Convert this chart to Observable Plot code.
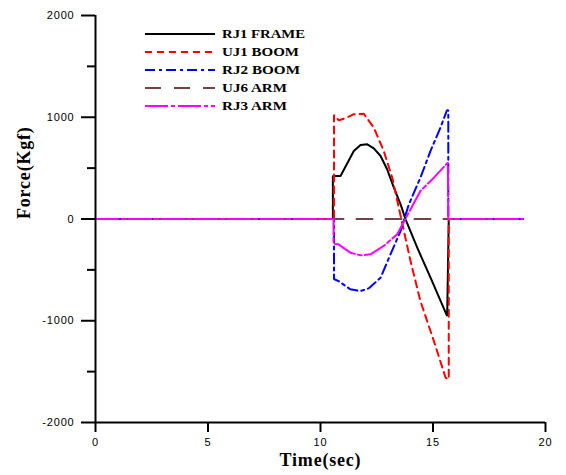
<!DOCTYPE html>
<html>
<head>
<meta charset="utf-8">
<script src="https://cdn.jsdelivr.net/npm/d3@7"></script>
<script src="https://cdn.jsdelivr.net/npm/@observablehq/plot@0.6"></script>
<style>
  html, body { margin: 0; padding: 0; background: #fff; }
  #wrap { position: relative; width: 566px; height: 475px; }
  #legend { position: absolute; left: 0; top: 0; pointer-events: none; }
</style>
</head>
<body>
<div id="wrap"></div>
<script>
// ---- data ----
const seriesNames = ["RJ1 FRAME", "UJ1 BOOM", "RJ2 BOOM", "UJ6 ARM", "RJ3 ARM"];
const seriesColors = ["#000000", "#ff0000", "#0000ff", "#704444", "#ff00ff"];
const seriesDash = ["none", "7,5", "10,4,3,4", "16,13", "23,3,4,3"];

const rj1Time  = [0, 10.55, 10.55, 10.89, 11.48, 11.78, 12.08, 12.37, 12.67, 12.96, 13.26, 13.56, 13.78, 14.30, 14.89, 15.63, 15.70, 19];
const rj1Force = [0, 0, 423, 423, 669, 728, 734, 695, 619, 489, 308, 144, -3, -282, -577, -954, 0, 0];

const uj1Time  = [0, 10.6, 10.6, 10.81, 11.1, 11.48, 11.92, 12.37, 12.81, 13.19, 13.48, 14.0, 14.44, 15.04, 15.56, 15.70, 15.70, 19];
const uj1Force = [0, 0, 1023, 970, 990, 1030, 1035, 898, 669, 406, 111, -413, -806, -1200, -1560, -1576, 0, 0];

const rj2Time  = [0, 10.6, 10.6, 10.8, 11.33, 11.78, 12.15, 12.67, 13.11, 13.56, 13.92, 14.44, 14.89, 15.33, 15.62, 15.68, 15.68, 19];
const rj2Force = [0, 0, -590, -610, -691, -708, -681, -577, -347, -118, 140, 406, 669, 898, 1069, 1069, 0, 0];

const uj6Time  = [0, 19];
const uj6Force = [0, 0];

const rj3Time  = [0, 10.58, 10.58, 10.8, 11.33, 11.78, 12.22, 12.81, 13.41, 13.77, 14.44, 15.04, 15.66, 15.68, 19];
const rj3Force = [0, 0, -243, -249, -331, -357, -347, -265, -150, 0, 275, 406, 554, 0, 0];

const xTicks = [0, 5, 10, 15, 20];
const yTicks = [-2000, -1000, 0, 1000, 2000];
const yMinorTicks = [-1500, -500, 500, 1500];
const xTitle = "Time(sec)";
const yTitle = "Force(Kgf)";

// ---- build table ----
const seriesTimes = [rj1Time, uj1Time, rj2Time, uj6Time, rj3Time];
const seriesForces = [rj1Force, uj1Force, rj2Force, uj6Force, rj3Force];
const rows = [];
seriesNames.forEach((name, i) => {
  seriesTimes[i].forEach((t, j) => rows.push({series: name, t, f: seriesForces[i][j]}));
});

const lineMarks = seriesNames.map((name, i) =>
  Plot.line(rows.filter(d => d.series === name), {
    x: "t", y: "f",
    stroke: seriesColors[i],
    strokeWidth: 2,
    strokeDasharray: seriesDash[i] === "none" ? undefined : seriesDash[i],
    strokeLinejoin: "miter",
    curve: "linear"
  })
);

const chart = Plot.plot({
  width: 566,
  height: 475,
  marginLeft: 95,
  marginRight: 21,
  marginTop: 15,
  marginBottom: 53,
  style: {fontFamily: "Liberation Sans, Arial, sans-serif", fontSize: "11px", letterSpacing: "0.8px", background: "#fff", color: "#000"},
  x: {domain: [0, 20]},
  y: {domain: [-2000, 2000]},
  marks: [
    ...lineMarks,
    Plot.ruleX([0], {stroke: "#000", strokeWidth: 2}),
    Plot.ruleY([-2000], {stroke: "#000", strokeWidth: 2}),
    Plot.axisY({ticks: yTicks, tickSize: 14, tickPadding: 7, strokeWidth: 2, label: null, tickFormat: d => String(d)}),
    Plot.axisY({ticks: yMinorTicks, tickSize: 8, strokeWidth: 2, label: null, tickFormat: () => ""}),
    Plot.axisX({ticks: xTicks, tickSize: 10, tickPadding: 6, strokeWidth: 2, label: null, tickFormat: d => String(d)}),
    Plot.text([xTitle], {frameAnchor: "bottom", dy: 43, fontFamily: "Liberation Serif, Times New Roman, serif", fontWeight: "bold", fontSize: 18, letterSpacing: "0px"}),
    Plot.text([yTitle], {frameAnchor: "left", dx: -71, rotate: -90, fontFamily: "Liberation Serif, Times New Roman, serif", fontWeight: "bold", fontSize: 18, letterSpacing: "0px"})
  ]
});
document.getElementById("wrap").appendChild(chart);

// ---- legend overlay ----
const legendX = 145, legendY = 34, legendRow = 18, legendLen = 70, legendWidths = [83, 77, 78, 65, 65];
const lg = d3.select("#wrap").append("svg")
  .attr("id", "legend").attr("width", 566).attr("height", 475);
seriesNames.forEach((name, i) => {
  const y = legendY + i * legendRow;
  lg.append("line")
    .attr("x1", legendX).attr("x2", legendX + legendLen)
    .attr("y1", y).attr("y2", y)
    .attr("stroke", seriesColors[i]).attr("stroke-width", 2)
    .attr("stroke-dasharray", seriesDash[i]);
  lg.append("text")
    .attr("x", legendX + legendLen + 7).attr("y", y)
    .attr("dy", "0.35em")
    .attr("font-family", "Liberation Serif, Times New Roman, serif")
    .attr("font-weight", "bold").attr("font-size", 11.5)
    .attr("textLength", legendWidths[i]).attr("lengthAdjust", "spacingAndGlyphs")
    .text(name);
});
</script>
</body>
</html>
